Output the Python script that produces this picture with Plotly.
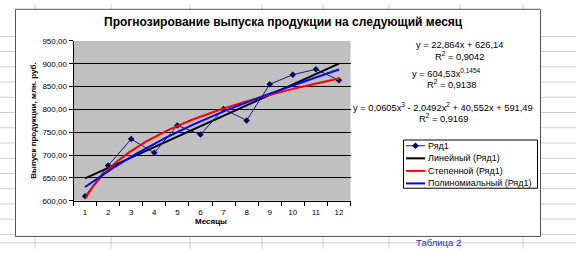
import numpy as np
import plotly.graph_objects as go

# ---- data ----
months = [1, 2, 3, 4, 5, 6, 7, 8, 9, 10, 11, 12]
output = [610, 677, 735, 705, 765, 745, 801, 776, 855, 876, 888, 864]
lin_coef = [22.864, 626.14]            # y = a*x + b
pow_coef = [604.53, 0.1454]            # y = a*x^b
poly_coef = [0.0605, -2.0492, 40.552, 591.49]  # cubic
y_ticks = [600, 650, 700, 750, 800, 850, 900, 950]
series_names = ["Ряд1", "Линейный (Ряд1)", "Степенной (Ряд1)", "Полиномиальный (Ряд1)"]
series_colors = ["#1a1a80", "black", "#ff0000", "#0000ff"]

W, H = 576, 254
def px(x): return x / W
def py(y): return 1 - y / H

FONT = "Arial, Liberation Sans, sans-serif"

xf = np.linspace(months[0], months[-1], 200)
lin_y = lin_coef[0] * xf + lin_coef[1]
pow_y = pow_coef[0] * xf ** pow_coef[1]
poly_y = np.polyval(poly_coef, xf)

fig = go.Figure()
fig.add_trace(go.Scatter(x=months, y=output, name=series_names[0], mode="lines+markers",
                         line=dict(color=series_colors[0], width=1),
                         marker=dict(symbol="diamond", size=5, color="#000066")))
fig.add_trace(go.Scatter(x=xf, y=lin_y, name=series_names[1], mode="lines",
                         line=dict(color=series_colors[1], width=2)))
fig.add_trace(go.Scatter(x=xf, y=pow_y, name=series_names[2], mode="lines",
                         line=dict(color=series_colors[2], width=2)))
fig.add_trace(go.Scatter(x=xf, y=poly_y, name=series_names[3], mode="lines",
                         line=dict(color=series_colors[3], width=2)))

shapes = []
cell = "#cfcfcf"
# spreadsheet row lines (left and right of the chart frame)
rows = [33.5 + 15.8 * k for k in range(14)]
for r in rows:
    shapes.append(dict(type="line", xref="paper", yref="paper", x0=0, x1=px(16),
                       y0=py(r), y1=py(r), line=dict(color=cell, width=1), layer="below"))
    shapes.append(dict(type="line", xref="paper", yref="paper", x0=px(540), x1=1,
                       y0=py(r), y1=py(r), line=dict(color=cell, width=1), layer="below"))
shapes.append(dict(type="line", xref="paper", yref="paper", x0=0, x1=1,
                   y0=py(247.5), y1=py(247.5), line=dict(color=cell, width=1), layer="below"))
for c in [35, 111, 190, 262, 323, 389, 460, 523]:
    shapes.append(dict(type="line", xref="paper", yref="paper", x0=px(c), x1=px(c),
                       y0=0, y1=1, line=dict(color=cell, width=1), layer="below"))
# chart frame
shapes.append(dict(type="rect", xref="paper", yref="paper", x0=px(15.5), x1=px(540.5),
                   y0=py(241), y1=py(5.5), fillcolor="white",
                   line=dict(color="#555555", width=1), layer="below"))
# plot area
shapes.append(dict(type="rect", xref="x domain", yref="y domain", x0=0, x1=1, y0=0, y1=1,
                   fillcolor="#c0c0c0", line=dict(width=0), layer="below"))

ann = []
# manual legend (Excel-style compact spacing)
shapes.append(dict(type="rect", xref="paper", yref="paper", x0=px(403.5), x1=px(537.5),
                   y0=py(191), y1=py(141), fillcolor="white",
                   line=dict(color="black", width=1), layer="below"))
leg_rows = [147, 160, 173, 186]
for i, (nm, col) in enumerate(zip(series_names, series_colors)):
    yy = leg_rows[i]
    shapes.append(dict(type="line", xref="paper", yref="paper", x0=px(406), x1=px(425),
                       y0=py(yy), y1=py(yy),
                       line=dict(color=col, width=1 if i == 0 else 2), layer="above"))
    ann.append(dict(text=nm, x=px(426), y=py(yy), xref="paper", yref="paper",
                    xanchor="left", yanchor="middle", showarrow=False,
                    font=dict(size=9, color="black", family=FONT)))
cx, cy, d = 415.5, leg_rows[0], 2.8
shapes.append(dict(type="path", xref="paper", yref="paper",
                   path=f"M {px(cx-d)},{py(cy)} L {px(cx)},{py(cy-d)} L {px(cx+d)},{py(cy)} L {px(cx)},{py(cy+d)} Z",
                   fillcolor="#000066", line=dict(color="#000066", width=1), layer="above"))

def txt(t, x, y, size, bold=False, color="black", angle=0):
    return dict(text=f"<b>{t}</b>" if bold else t, x=px(x), y=py(y), xref="paper", yref="paper",
                xanchor="center", yanchor="middle", showarrow=False, textangle=angle,
                font=dict(size=size, color=color, family=FONT))

ann.append(txt("Прогнозирование выпуска продукции на следующий месяц", 283, 19, 12, True))
ann.append(txt("Выпуск продукции, млн. руб.", 34, 121, 8, True, angle=-90))
ann.append(txt("Месяцы", 211, 226, 8, True))
eqs = [
    ("y = 22,864x + 626,14", 459, 43),
    ("R<sup>2</sup> = 0,9042", 459, 53.5),
    ("y = 604,53x<sup>0,1454</sup>", 446, 72),
    ("R<sup>2</sup> = 0,9138", 451, 82.5),
    ("y = 0,0605x<sup>3</sup> - 2,0492x<sup>2</sup> + 40,552x + 591,49", 443, 107),
    ("R<sup>2</sup> = 0,9169", 443, 118),
]
for t, x, y in eqs:
    ann.append(txt(t, x, y, 9.3))
ann.append(dict(text="Таблица 2", x=px(438), y=0, xref="paper", yref="paper",
                xanchor="center", yanchor="bottom", showarrow=False, borderpad=0,
                font=dict(size=9.5, color="#2b2bb8", family=FONT)))

fig.update_layout(
    width=W, height=H, margin=dict(l=0, r=0, t=0, b=0),
    paper_bgcolor="white", plot_bgcolor="rgba(0,0,0,0)",
    separators=", ",
    font=dict(family=FONT, size=8, color="black"),
    shapes=shapes, annotations=ann,
    showlegend=False,
    xaxis=dict(domain=[px(73.5), px(350.5)], range=[0.5, 12.5],
               tickmode="array", tickvals=months, ticktext=[str(m) for m in months],
               ticks="outside", ticklen=4, tickcolor="rgba(0,0,0,0)",
               showline=True, linecolor="black", linewidth=1,
               showgrid=False, zeroline=False,
               minor=dict(tickmode="array", tickvals=[m + 0.5 for m in [0] + months],
                          ticks="outside", ticklen=4, tickcolor="black", showgrid=False),
               tickfont=dict(size=8)),
    yaxis=dict(domain=[py(204), py(38.3)], range=[600, 950],
               tickmode="array", tickvals=y_ticks, tickformat=".2f",
               ticks="outside", ticklen=4, tickcolor="black",
               showline=True, linecolor="black", linewidth=1,
               showgrid=True, gridcolor="black", gridwidth=1, zeroline=False,
               tickfont=dict(size=8)),
)

fig.write_html("out.html")
